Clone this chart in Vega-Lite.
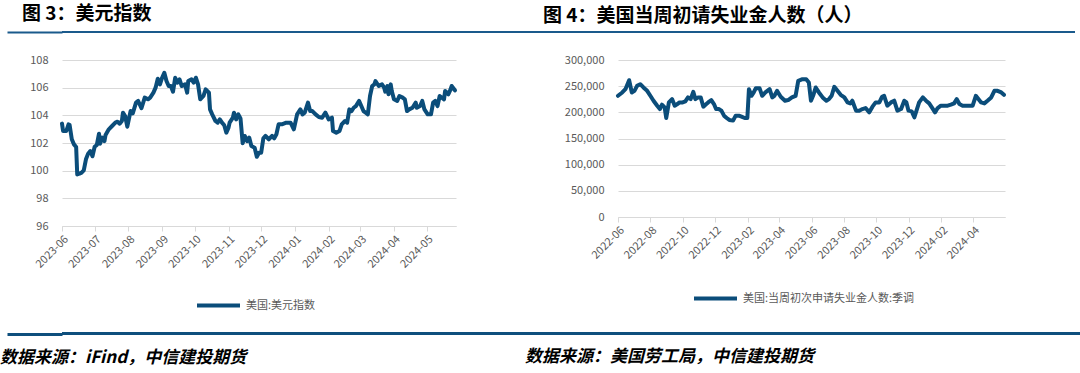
{
  "$schema": "https://vega.github.io/schema/vega-lite/v6.json",
  "background": "white",
  "padding": {"left": 0, "top": 5, "right": 0, "bottom": 0},
  "config": {
    "font": "Noto Sans CJK SC",
    "view": {"stroke": null},
    "axis": {"labelFont": "Noto Sans CJK SC", "labelFontSize": 11, "labelColor": "#595959"}
  },
  "datasets": {
    "dxy": [
      {"date":"2023-06-01","v":103.40},{"date":"2023-06-02","v":102.87},{"date":"2023-06-05","v":102.87},{"date":"2023-06-07","v":103.35},{"date":"2023-06-08","v":103.30},{"date":"2023-06-10","v":102.27},{"date":"2023-06-12","v":101.90},{"date":"2023-06-14","v":101.71},{"date":"2023-06-15","v":99.73},{"date":"2023-06-17","v":99.78},{"date":"2023-06-19","v":99.86},{"date":"2023-06-21","v":100.02},{"date":"2023-06-23","v":100.82},{"date":"2023-06-25","v":101.23},{"date":"2023-06-27","v":101.42},{"date":"2023-06-29","v":101.04},
      {"date":"2023-07-01","v":101.73},{"date":"2023-07-03","v":101.86},{"date":"2023-07-05","v":102.67},{"date":"2023-07-06","v":101.95},{"date":"2023-07-08","v":102.39},{"date":"2023-07-10","v":102.14},{"date":"2023-07-11","v":102.58},{"date":"2023-07-14","v":102.99},{"date":"2023-07-17","v":103.23},{"date":"2023-07-20","v":103.47},{"date":"2023-07-22","v":103.54},{"date":"2023-07-24","v":103.40},{"date":"2023-07-26","v":103.59},{"date":"2023-07-27","v":104.19},{"date":"2023-07-29","v":103.95},{"date":"2023-07-31","v":103.18},
      {"date":"2023-08-03","v":104.31},{"date":"2023-08-05","v":104.14},{"date":"2023-08-08","v":104.92},{"date":"2023-08-10","v":105.04},{"date":"2023-08-13","v":104.51},{"date":"2023-08-16","v":105.28},{"date":"2023-08-19","v":105.16},{"date":"2023-08-21","v":105.28},{"date":"2023-08-24","v":105.64},{"date":"2023-08-26","v":106.00},{"date":"2023-08-28","v":106.65},{"date":"2023-08-30","v":106.24},
      {"date":"2023-09-01","v":106.72},{"date":"2023-09-03","v":107.08},{"date":"2023-09-05","v":106.48},{"date":"2023-09-07","v":106.12},{"date":"2023-09-09","v":106.12},{"date":"2023-09-11","v":105.71},{"date":"2023-09-13","v":106.72},{"date":"2023-09-15","v":106.36},{"date":"2023-09-17","v":106.60},{"date":"2023-09-19","v":106.12},{"date":"2023-09-22","v":106.24},{"date":"2023-09-24","v":105.64},{"date":"2023-09-25","v":106.48},{"date":"2023-09-28","v":106.60},{"date":"2023-09-30","v":106.36},
      {"date":"2023-10-02","v":106.72},{"date":"2023-10-04","v":106.24},{"date":"2023-10-06","v":105.16},{"date":"2023-10-09","v":105.40},{"date":"2023-10-11","v":105.88},{"date":"2023-10-14","v":105.64},{"date":"2023-10-15","v":104.43},{"date":"2023-10-17","v":104.07},{"date":"2023-10-20","v":103.59},{"date":"2023-10-22","v":103.47},{"date":"2023-10-24","v":103.71},{"date":"2023-10-26","v":103.47},{"date":"2023-10-28","v":103.30},{"date":"2023-10-30","v":102.75},
      {"date":"2023-11-01","v":103.11},{"date":"2023-11-02","v":103.47},{"date":"2023-11-05","v":103.83},{"date":"2023-11-06","v":104.19},{"date":"2023-11-08","v":103.71},{"date":"2023-11-10","v":104.07},{"date":"2023-11-12","v":103.78},{"date":"2023-11-14","v":101.98},{"date":"2023-11-16","v":102.51},{"date":"2023-11-18","v":102.14},{"date":"2023-11-20","v":102.39},{"date":"2023-11-22","v":101.78},{"date":"2023-11-25","v":101.66},{"date":"2023-11-27","v":101.01},{"date":"2023-11-29","v":101.30},
      {"date":"2023-12-01","v":101.30},{"date":"2023-12-03","v":102.34},{"date":"2023-12-05","v":102.51},{"date":"2023-12-08","v":102.27},{"date":"2023-12-11","v":102.51},{"date":"2023-12-13","v":102.34},{"date":"2023-12-15","v":102.63},{"date":"2023-12-17","v":103.35},{"date":"2023-12-20","v":103.35},{"date":"2023-12-24","v":103.47},{"date":"2023-12-28","v":103.47},{"date":"2023-12-31","v":102.99},
      {"date":"2024-01-03","v":104.07},{"date":"2024-01-06","v":104.43},{"date":"2024-01-08","v":104.07},{"date":"2024-01-10","v":104.19},{"date":"2024-01-13","v":104.92},{"date":"2024-01-15","v":104.31},{"date":"2024-01-17","v":104.31},{"date":"2024-01-20","v":104.07},{"date":"2024-01-23","v":103.88},{"date":"2024-01-26","v":103.83},{"date":"2024-01-29","v":104.19},
      {"date":"2024-02-01","v":103.71},{"date":"2024-02-04","v":103.83},{"date":"2024-02-05","v":102.87},{"date":"2024-02-08","v":102.75},{"date":"2024-02-11","v":102.87},{"date":"2024-02-13","v":103.35},{"date":"2024-02-16","v":103.59},{"date":"2024-02-18","v":103.47},{"date":"2024-02-20","v":104.43},{"date":"2024-02-22","v":104.31},{"date":"2024-02-24","v":104.55},{"date":"2024-02-26","v":104.67},{"date":"2024-02-29","v":105.04},
      {"date":"2024-03-02","v":104.67},{"date":"2024-03-04","v":104.31},{"date":"2024-03-06","v":104.19},{"date":"2024-03-08","v":104.07},{"date":"2024-03-10","v":105.40},{"date":"2024-03-12","v":106.12},{"date":"2024-03-14","v":106.24},{"date":"2024-03-15","v":106.48},{"date":"2024-03-18","v":106.12},{"date":"2024-03-21","v":106.24},{"date":"2024-03-23","v":106.00},{"date":"2024-03-24","v":105.71},{"date":"2024-03-26","v":106.12},{"date":"2024-03-27","v":105.52},{"date":"2024-03-29","v":106.24},{"date":"2024-03-30","v":105.76},
      {"date":"2024-04-01","v":105.16},{"date":"2024-04-04","v":105.04},{"date":"2024-04-06","v":105.40},{"date":"2024-04-09","v":105.28},{"date":"2024-04-11","v":105.16},{"date":"2024-04-13","v":104.31},{"date":"2024-04-15","v":104.43},{"date":"2024-04-18","v":104.55},{"date":"2024-04-21","v":104.92},{"date":"2024-04-22","v":104.55},{"date":"2024-04-25","v":104.67},{"date":"2024-04-27","v":105.04},{"date":"2024-04-29","v":104.43},
      {"date":"2024-05-02","v":104.07},{"date":"2024-05-05","v":104.07},{"date":"2024-05-07","v":104.92},{"date":"2024-05-09","v":105.04},{"date":"2024-05-11","v":104.67},{"date":"2024-05-13","v":105.40},{"date":"2024-05-15","v":105.28},{"date":"2024-05-17","v":105.16},{"date":"2024-05-18","v":105.76},{"date":"2024-05-21","v":105.52},{"date":"2024-05-23","v":105.88},{"date":"2024-05-24","v":106.12},{"date":"2024-05-27","v":105.81}
    ],
    "claims": [
      {"date":"2022-06-01","v":231600},{"date":"2022-06-09","v":238000},{"date":"2022-06-15","v":244300},{"date":"2022-06-22","v":261400},{"date":"2022-06-27","v":238000},{"date":"2022-07-02","v":241100},{"date":"2022-07-07","v":250600},{"date":"2022-07-13","v":253800},{"date":"2022-07-19","v":247500},{"date":"2022-07-26","v":241100},
      {"date":"2022-08-01","v":231600},{"date":"2022-08-07","v":222200},{"date":"2022-08-14","v":212700},{"date":"2022-08-19","v":206300},{"date":"2022-08-23","v":214600},{"date":"2022-08-28","v":209500},{"date":"2022-08-31","v":189200},{"date":"2022-09-05","v":219000},{"date":"2022-09-11","v":225300},{"date":"2022-09-16","v":212700},{"date":"2022-09-21","v":215800},{"date":"2022-09-25","v":219000},
      {"date":"2022-10-01","v":219000},{"date":"2022-10-06","v":220900},{"date":"2022-10-11","v":228500},{"date":"2022-10-16","v":225300},{"date":"2022-10-21","v":239200},{"date":"2022-10-25","v":225300},{"date":"2022-10-30","v":228500},{"date":"2022-11-04","v":228500},{"date":"2022-11-09","v":210800},{"date":"2022-11-13","v":214600},{"date":"2022-11-18","v":219000},{"date":"2022-11-24","v":223400},{"date":"2022-11-29","v":215800},
      {"date":"2022-12-03","v":206300},{"date":"2022-12-08","v":206300},{"date":"2022-12-13","v":203200},{"date":"2022-12-18","v":193700},{"date":"2022-12-23","v":189200},{"date":"2022-12-28","v":185400},{"date":"2023-01-04","v":184200},{"date":"2023-01-09","v":193700},{"date":"2023-01-15","v":193700},{"date":"2023-01-20","v":191800},{"date":"2023-01-26","v":189200},{"date":"2023-01-31","v":189200},
      {"date":"2023-02-03","v":244300},{"date":"2023-02-08","v":231600},{"date":"2023-02-12","v":238000},{"date":"2023-02-16","v":246200},{"date":"2023-02-23","v":246200},{"date":"2023-02-28","v":231600},{"date":"2023-03-06","v":238000},{"date":"2023-03-14","v":244300},{"date":"2023-03-19","v":228500},{"date":"2023-03-23","v":231600},{"date":"2023-03-28","v":241100},
      {"date":"2023-04-04","v":229700},{"date":"2023-04-12","v":222200},{"date":"2023-04-18","v":223400},{"date":"2023-04-25","v":228500},{"date":"2023-05-02","v":231600},{"date":"2023-05-07","v":260100},{"date":"2023-05-15","v":263300},{"date":"2023-05-22","v":263300},{"date":"2023-05-27","v":257000},{"date":"2023-05-31","v":222200},
      {"date":"2023-06-04","v":231600},{"date":"2023-06-09","v":247500},{"date":"2023-06-15","v":238000},{"date":"2023-06-22","v":228500},{"date":"2023-06-29","v":222200},{"date":"2023-07-04","v":225300},{"date":"2023-07-09","v":231600},{"date":"2023-07-14","v":248700},{"date":"2023-07-20","v":241100},{"date":"2023-07-26","v":233500},
      {"date":"2023-08-02","v":228500},{"date":"2023-08-08","v":219000},{"date":"2023-08-13","v":217100},{"date":"2023-08-17","v":222200},{"date":"2023-08-24","v":203200},{"date":"2023-08-30","v":203200},{"date":"2023-09-05","v":206300},{"date":"2023-09-11","v":208200},{"date":"2023-09-18","v":200000},{"date":"2023-09-24","v":210800},{"date":"2023-09-30","v":219000},
      {"date":"2023-10-07","v":219000},{"date":"2023-10-12","v":229700},{"date":"2023-10-16","v":231600},{"date":"2023-10-22","v":212700},{"date":"2023-10-29","v":219000},{"date":"2023-11-04","v":222200},{"date":"2023-11-10","v":203200},{"date":"2023-11-17","v":206300},{"date":"2023-11-23","v":222200},{"date":"2023-11-27","v":219000},
      {"date":"2023-12-01","v":203200},{"date":"2023-12-07","v":201900},{"date":"2023-12-12","v":190500},{"date":"2023-12-21","v":219000},{"date":"2023-12-28","v":228500},{"date":"2024-01-03","v":222200},{"date":"2024-01-09","v":217100},{"date":"2024-01-14","v":209500},{"date":"2024-01-20","v":200000},{"date":"2024-01-25","v":208200},{"date":"2024-01-31","v":212700},
      {"date":"2024-02-07","v":212700},{"date":"2024-02-13","v":212700},{"date":"2024-02-19","v":214600},{"date":"2024-02-25","v":217100},{"date":"2024-03-01","v":225300},{"date":"2024-03-06","v":215800},{"date":"2024-03-12","v":212700},{"date":"2024-03-18","v":212700},{"date":"2024-03-25","v":212700},{"date":"2024-03-31","v":212700},
      {"date":"2024-04-06","v":231600},{"date":"2024-04-16","v":219000},{"date":"2024-04-22","v":217100},{"date":"2024-04-28","v":222200},{"date":"2024-05-05","v":228500},{"date":"2024-05-11","v":241100},{"date":"2024-05-17","v":241100},{"date":"2024-05-24","v":238000},{"date":"2024-05-29","v":233500}
    ]
  },
  "columns": 1,
  "align": "none",
  "spacing": 16,
  "concat": [
    {
      "columns": 1,
      "align": "none",
      "spacing": 19,
      "concat": [
        {
          "spacing": 0,
          "hconcat": [
            {
              "width": 443, "height": 2,
              "data": {"values": [{"k": 1}]},
              "mark": {"type": "point", "opacity": 0},
              "encoding": {
                "y": {"datum": 0.5, "type": "quantitative", "scale": {"domain": [0, 1]},
                  "axis": {"title": null, "values": [0.5], "labels": false, "domain": false, "grid": false, "ticks": true, "tickSize": 55, "tickWidth": 2, "tickColor": "#1a5a8c", "minExtent": 0}}
              },
              "view": {"fill": "#1a5a8c", "stroke": null},
              "title": {"text": "图 3：美元指数", "frame": "group", "anchor": "start", "dx": -40, "offset": 5, "baseline": "top", "fontSize": 19, "fontWeight": "bold", "font": "Noto Sans CJK SC", "color": "#000000"}
            },
            {
              "width": 570, "height": 2,
              "data": {"values": []},
              "mark": "point",
              "view": {"fill": "#1a5a8c", "stroke": null},
              "title": {"text": "图 4：美国当周初请失业金人数（人）", "frame": "group", "anchor": "start", "dx": 38, "offset": 5, "baseline": "top", "fontSize": 19, "fontWeight": "bold", "font": "Noto Sans CJK SC", "color": "#000000"}
            }
          ]
        },
        {
          "spacing": 107,
          "resolve": {"scale": {"color": "independent", "x": "independent", "y": "independent"}, "legend": {"color": "independent"}},
          "hconcat": [
            {
              "width": 394, "height": 166,
              "data": {"name": "dxy"},
              "mark": {"type": "line", "strokeWidth": 4, "strokeJoin": "round", "strokeCap": "round"},
              "encoding": {
                "x": {"field": "date", "type": "temporal",
                  "scale": {"type": "utc", "domain": [{"year": 2023, "month": 6, "date": 1, "utc": true}, {"year": 2024, "month": 5, "date": 28, "utc": true}]},
                  "axis": {"title": null, "grid": false, "format": "%Y-%m", "labelAngle": -45, "labelOverlap": false, "domainColor": "#d9d9d9", "tickColor": "#d9d9d9", "tickSize": 5, "labelPadding": 2,
                    "values": [
                      {"year": 2023, "month": 6, "date": 1, "utc": true}, {"year": 2023, "month": 7, "date": 1, "utc": true}, {"year": 2023, "month": 8, "date": 1, "utc": true}, {"year": 2023, "month": 9, "date": 1, "utc": true}, {"year": 2023, "month": 10, "date": 1, "utc": true}, {"year": 2023, "month": 11, "date": 1, "utc": true}, {"year": 2023, "month": 12, "date": 1, "utc": true}, {"year": 2024, "month": 1, "date": 1, "utc": true}, {"year": 2024, "month": 2, "date": 1, "utc": true}, {"year": 2024, "month": 3, "date": 1, "utc": true}, {"year": 2024, "month": 4, "date": 1, "utc": true}, {"year": 2024, "month": 5, "date": 1, "utc": true}
                    ]}},
                "y": {"field": "v", "type": "quantitative",
                  "scale": {"domain": [96, 108], "nice": false, "zero": false},
                  "axis": {"title": null, "values": [96, 98, 100, 102, 104, 106, 108], "domain": false, "ticks": false, "gridColor": "#d9d9d9", "labelPadding": 14, "minExtent": 54}},
                "color": {"datum": "美国:美元指数", "type": "nominal", "scale": {"range": ["#0b4d7a"]},
                  "legend": {"title": null, "orient": "none", "legendX": 133, "legendY": 222, "symbolType": "stroke", "symbolSize": 1849, "symbolStrokeWidth": 4, "labelFontSize": 11, "labelColor": "#595959", "labelOffset": 4, "padding": 0, "labelFont": "Noto Sans CJK SC"}}
              }
            },
            {
              "width": 387, "height": 157,
              "data": {"name": "claims"},
              "mark": {"type": "line", "strokeWidth": 4, "strokeJoin": "round", "strokeCap": "round"},
              "encoding": {
                "x": {"field": "date", "type": "temporal",
                  "scale": {"type": "utc", "domain": [{"year": 2022, "month": 6, "date": 1, "utc": true}, {"year": 2024, "month": 5, "date": 31, "utc": true}]},
                  "axis": {"title": null, "grid": false, "format": "%Y-%m", "labelAngle": -45, "labelOverlap": false, "domainColor": "#d9d9d9", "tickColor": "#d9d9d9", "tickSize": 5, "labelPadding": 2,
                    "values": [
                      {"year": 2022, "month": 6, "date": 1, "utc": true}, {"year": 2022, "month": 8, "date": 1, "utc": true}, {"year": 2022, "month": 10, "date": 1, "utc": true}, {"year": 2022, "month": 12, "date": 1, "utc": true}, {"year": 2023, "month": 2, "date": 1, "utc": true}, {"year": 2023, "month": 4, "date": 1, "utc": true}, {"year": 2023, "month": 6, "date": 1, "utc": true}, {"year": 2023, "month": 8, "date": 1, "utc": true}, {"year": 2023, "month": 10, "date": 1, "utc": true}, {"year": 2023, "month": 12, "date": 1, "utc": true}, {"year": 2024, "month": 2, "date": 1, "utc": true}, {"year": 2024, "month": 4, "date": 1, "utc": true}
                    ]}},
                "y": {"field": "v", "type": "quantitative",
                  "scale": {"domain": [0, 300000], "nice": false},
                  "axis": {"title": null, "values": [0, 50000, 100000, 150000, 200000, 250000, 300000], "format": ",.0f", "formatType": "number", "domain": false, "ticks": false, "gridColor": "#d9d9d9", "labelPadding": 14, "minExtent": 54}},
                "color": {"datum": "美国:当周初次申请失业金人数:季调", "type": "nominal", "scale": {"range": ["#0b4d7a"]},
                  "legend": {"title": null, "orient": "none", "legendX": 74, "legendY": 215, "symbolType": "stroke", "symbolSize": 1849, "symbolStrokeWidth": 4, "labelFontSize": 11, "labelColor": "#595959", "labelOffset": 4, "padding": 0, "labelFont": "Noto Sans CJK SC", "labelLimit": 300}}
              }
            }
          ]
        }
      ]
    },
    {
      "spacing": 0,
      "hconcat": [
        {
          "width": 463, "height": 3,
          "data": {"values": [{"k": 1}]},
          "mark": {"type": "point", "opacity": 0},
          "encoding": {
            "y": {"datum": 0.5, "type": "quantitative", "scale": {"domain": [0, 1]},
              "axis": {"title": null, "values": [0.5], "labels": false, "domain": false, "grid": false, "ticks": true, "tickSize": 55, "tickWidth": 3, "tickColor": "#0e4f7d", "minExtent": 0}}
          },
          "view": {"fill": "#0e4f7d", "stroke": null},
          "title": {"text": "数据来源：iFind，中信建投期货", "frame": "group", "orient": "bottom", "anchor": "start", "dx": -62, "offset": 14, "baseline": "top", "fontSize": 17, "fontWeight": "bold", "fontStyle": "italic", "font": "Noto Sans CJK SC", "color": "#000000"}
        },
        {
          "width": 555, "height": 3,
          "data": {"values": []},
          "mark": "point",
          "view": {"fill": "#0e4f7d", "stroke": null},
          "title": {"text": "数据来源：美国劳工局，中信建投期货", "frame": "group", "orient": "bottom", "anchor": "start", "dx": 0, "offset": 14, "baseline": "top", "fontSize": 17, "fontWeight": "bold", "fontStyle": "italic", "font": "Noto Sans CJK SC", "color": "#000000"}
        }
      ]
    }
  ]
}
